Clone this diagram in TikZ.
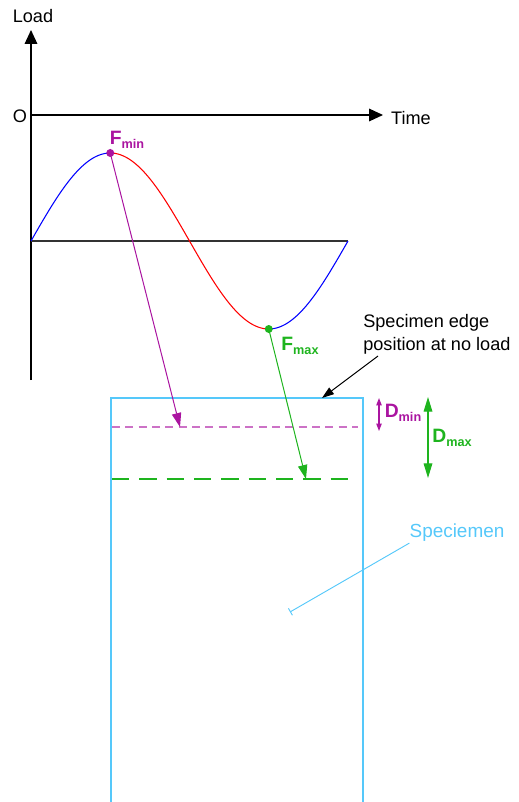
\documentclass[tikz,border=0pt]{standalone}
\usepackage{fontspec}
\setmainfont{Liberation Sans}
\usetikzlibrary{arrows.meta}
\definecolor{cpurple}{RGB}{170,20,160}
\definecolor{cgreen}{RGB}{30,180,30}
\definecolor{ccyan}{RGB}{85,200,250}
\begin{document}
\begin{tikzpicture}[x=0.75pt,y=-0.75pt,
  lbl/.style={font=\fontsize{13.6}{17.3}\selectfont, inner sep=0pt},
  flbl/.style={font=\fontsize{14.5}{16}\selectfont\bfseries, inner sep=0pt},
  axis/.style={line width=0.9pt, -{Triangle[width=9.5pt,length=10.5pt]}},
  ptr/.style={line width=0.75pt, -{Triangle[width=7pt,length=10.5pt]}},
  dot/.style={circle, fill, inner sep=0pt, minimum size=6pt}]
\useasboundingbox (0,0) rectangle (518,802);

% axes
\coordinate (orig) at (31,115);
\coordinate (ybot) at (31,380);
\coordinate (ytop) at (31,30);
\coordinate (xend) at (383,115);
\draw[axis] (ybot) -- (ytop);
\draw[axis] (orig) -- (xend);
\node[lbl] (load) at (33,16) {Load};
\node[lbl] (time) at (411,118) {Time};
\node[lbl] (o) at (20,116) {O};

% baseline
\coordinate (bl) at (31,241);
\coordinate (br) at (348,241);
\draw[black!80, line width=0.9pt] (bl) -- (br);

% sine
\draw[blue, line width=0.8pt] plot[domain=0:0.25, samples=40] ({31+317*\x},{241-88*sin(360*\x)});
\draw[red, line width=0.8pt] plot[domain=0.25:0.75, samples=80] ({31+317*\x},{241-88*sin(360*\x)});
\draw[blue, line width=0.8pt] plot[domain=0.75:1, samples=40] ({31+317*\x},{241-88*sin(360*\x)});

% points
\node[dot, cpurple] (fmin) at (110.25,153) {};
\node[dot, cgreen] (fmax) at (268.75,329) {};
\node[flbl, cpurple] (fminl) at (127,140) {F\raisebox{-0.35ex}{\fontsize{9.5}{10}\selectfont min}};
\node[flbl, cgreen] (fmaxl) at (300,346) {F\raisebox{-0.35ex}{\fontsize{9.5}{10}\selectfont max}};

% specimen
\coordinate (sbl) at (111,805);
\coordinate (stl) at (111,398);
\coordinate (str) at (363,398);
\coordinate (sbr) at (363,805);
\draw[ccyan, line width=1.2pt] (sbl) -- (stl) -- (str) -- (sbr);

% displacement lines
\coordinate (pdl) at (112,427);
\coordinate (pdr) at (358,427);
\coordinate (pdt) at (180,427);
\draw[cpurple!60, line width=0.9pt, dash pattern=on 6pt off 4pt] (pdl) -- (pdr);
\coordinate (gdl) at (112,479);
\coordinate (gdr) at (353,479);
\coordinate (gdt) at (306,479);
\draw[cgreen, line width=0.9pt, dash pattern=on 13pt off 7.5pt] (gdl) -- (gdr);

\draw[ptr, cpurple] (fmin.center) -- (pdt);
\draw[ptr, cgreen] (fmax.center) -- (gdt);

% note
\node[lbl, align=left, anchor=west] (note) at (363,334) {Specimen edge\\position at no load};
\coordinate (notetail) at (378,356);
\coordinate (edgept) at (322,398);
\draw[line width=0.75pt, -{Triangle[width=6pt,length=9pt]}] (notetail) -- (edgept);

% D arrows
\coordinate (dmint) at (379,398);
\coordinate (dminb) at (379,431);
\draw[cpurple, line width=0.8pt, {Triangle[width=4pt,length=5.5pt]}-{Triangle[width=4pt,length=5.5pt]}] (dmint) -- (dminb);
\node[flbl, cpurple] (dminl) at (403,413) {D\raisebox{-0.35ex}{\fontsize{9.5}{10}\selectfont min}};
\coordinate (dmaxt) at (428,397);
\coordinate (dmaxb) at (428,478);
\draw[cgreen, line width=0.9pt, {Triangle[width=6.5pt,length=11pt]}-{Triangle[width=6.5pt,length=11pt]}] (dmaxt) -- (dmaxb);
\node[flbl, cgreen] (dmaxl) at (452,438) {D\raisebox{-0.35ex}{\fontsize{9.5}{10}\selectfont max}};

% speciemen label
\node[lbl, ccyan, font=\fontsize{14.2}{17}\selectfont] (spec) at (457,533) {Speciemen};
\coordinate (specpt) at (290,612);
\draw[ccyan, line width=0.7pt, -{Bar[width=6pt]}] (spec.south west) ++(0,1) -- (specpt);
\end{tikzpicture}
\end{document}
